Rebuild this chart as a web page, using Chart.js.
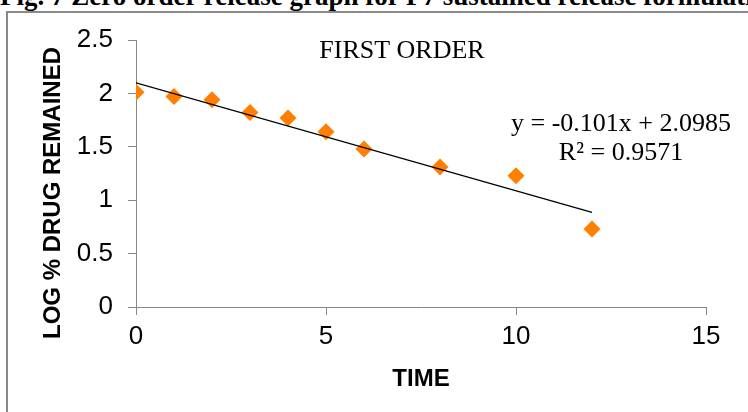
<!DOCTYPE html>
<html>
<head>
<meta charset="utf-8">
<script src="https://cdn.jsdelivr.net/npm/chart.js@4.4.1/dist/chart.umd.min.js"></script>
<style>
  body { margin: 0; background: #fff; }
  #wrap { position: relative; width: 748px; height: 412px; overflow: hidden; background: #fff; }
  #caption { position: absolute; left: 0; top: -17px; white-space: nowrap;
             font: bold 27px/27px "Liberation Serif", "Times New Roman", serif; color: #000; }
  #frame { position: absolute; left: 6px; top: 11px; width: 800px; height: 500px;
           border: 2px solid #8a8a8a; box-sizing: border-box; }
  #myChart { position: absolute; left: 0; top: 0; }
</style>
</head>
<body>
<div id="wrap">
  <div id="caption">Fig. 7 Zero order release graph for F7 sustained release formulation</div>
  <div id="frame"></div>
  <canvas id="myChart" width="748" height="412"></canvas>
</div>
<script>
// data
let time = [0, 1, 2, 3, 4, 5, 6, 8, 10, 12];
let log_drug = [2.01, 1.97, 1.94, 1.82, 1.77, 1.64, 1.48, 1.31, 1.23, 0.73];

// linear trendline shown on the chart
let slope = -0.101;
let intercept = 2.0985;
let r2 = 0.9571;

let x_ticks = [0, 5, 10, 15];
let y_ticks = [0, 0.5, 1, 1.5, 2, 2.5];

let trend = [time[0], time[time.length - 1]].map(x => ({x: x, y: slope * x + intercept}));

const axisGray = '#868686';
const sans = '"Liberation Sans", Arial, sans-serif';
const serif = '"Liberation Serif", "Times New Roman", serif';

const textPlugin = {
    id: 'texts',
    afterDraw(chart) {
        const ctx = chart.ctx;
        ctx.save();
        ctx.fillStyle = '#000';
        ctx.textAlign = 'center';
        ctx.textBaseline = 'alphabetic';

        ctx.font = '26px ' + serif;
        ctx.fillText('FIRST ORDER', 402, 58);
        ctx.fillText('y = ' + slope + 'x + ' + intercept, 621, 131);
        ctx.fillText('R² = ' + r2, 621, 160);

        ctx.font = 'bold 24px ' + sans;
        ctx.fillText('TIME', 421, 386);

        ctx.translate(53, 193);
        ctx.rotate(-Math.PI / 2);
        ctx.textBaseline = 'middle';
        ctx.fillText('LOG % DRUG REMAINED', 0, 0);
        ctx.restore();
    }
};

const ctx = document.querySelector('#myChart').getContext('2d');
const myChart = new Chart(ctx, {
    type: 'scatter',
    data: {
        datasets: [{
            label: 'log % drug remained',
            data: time.map((t, i) => ({x: t, y: log_drug[i]})),
            pointStyle: 'rectRot',
            pointRadius: 8.5,
            backgroundColor: '#FF7F00',
            borderColor: '#FF7F00',
            borderWidth: 0,
            order: 2
        }, {
            type: 'line',
            label: 'Linear trend',
            data: trend,
            borderColor: '#000',
            borderWidth: 1.3,
            pointRadius: 0,
            fill: false,
            order: 1
        }]
    },
    options: {
        responsive: false,
        devicePixelRatio: 1,
        animation: false,
        layout: { padding: { left: 0, top: 40, right: 42, bottom: 0 } },
        plugins: {
            legend: { display: false },
            tooltip: { enabled: false }
        },
        scales: {
            x: {
                type: 'linear',
                min: x_ticks[0],
                max: x_ticks[x_ticks.length - 1],
                afterBuildTicks: s => { s.ticks = x_ticks.map(v => ({value: v})); },
                afterFit: s => { s.height = 105; },
                ticks: { font: { size: 26, family: sans }, color: '#000', padding: 6,
                         callback: v => String(v) },
                grid: { drawOnChartArea: false, tickLength: 8, color: axisGray },
                border: { color: axisGray, width: 1 }
            },
            y: {
                min: y_ticks[0],
                max: y_ticks[y_ticks.length - 1],
                afterBuildTicks: s => { s.ticks = y_ticks.map(v => ({value: v})); },
                afterFit: s => { s.width = 136; },
                ticks: { font: { size: 26, family: sans }, color: '#000', padding: 15,
                         callback: v => String(v) },
                grid: { drawOnChartArea: false, tickLength: 8, color: axisGray },
                border: { color: axisGray, width: 1 }
            }
        }
    },
    plugins: [textPlugin]
});
</script>
</body>
</html>
